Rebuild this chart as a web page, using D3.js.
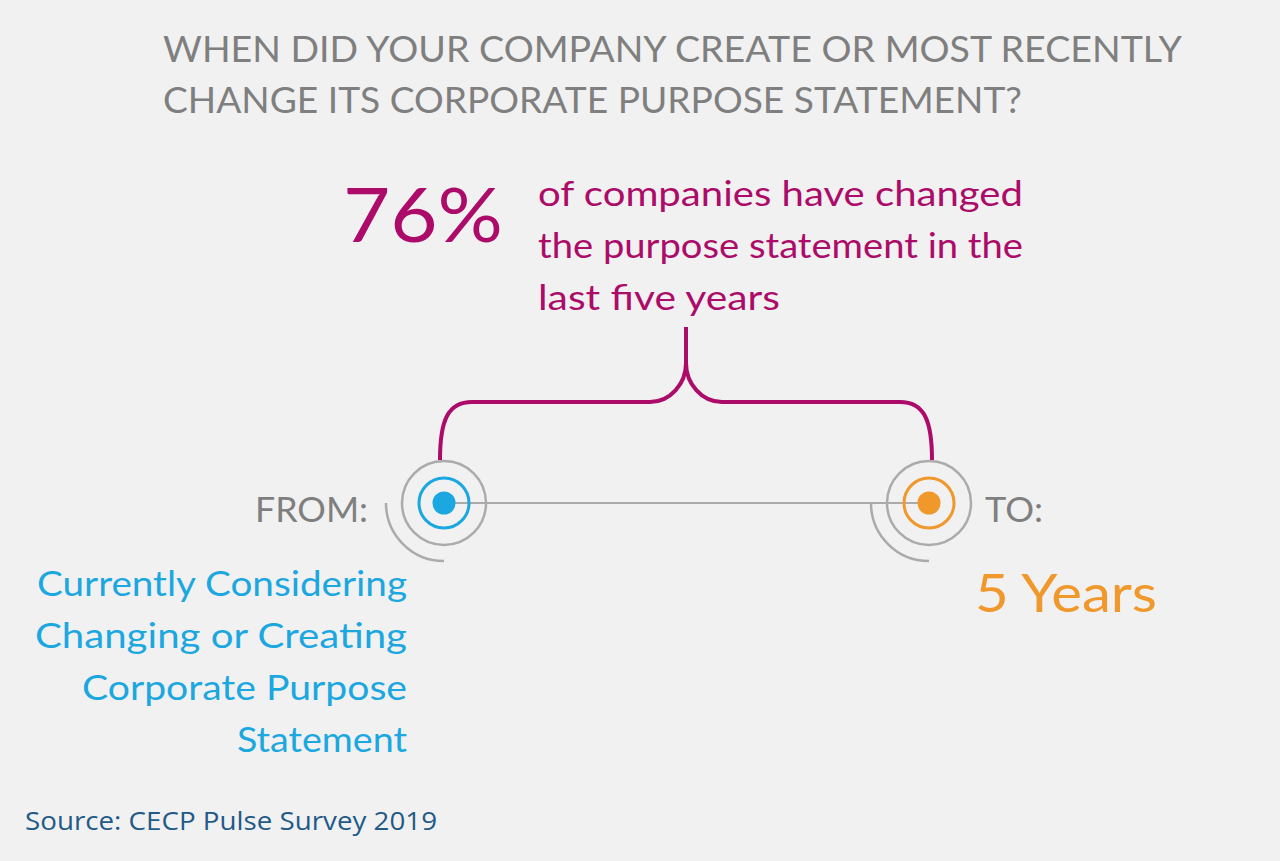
<!DOCTYPE html>
<html>
<head>
<meta charset="utf-8">
<script src="https://cdn.jsdelivr.net/npm/d3@7"></script>
<style>
html, body { margin: 0; padding: 0; background: #f1f1f1; }
svg { display: block; }
</style>
</head>
<body>
<div id="chart"></div>
<script>
// values
const titleLines = ['WHEN DID YOUR COMPANY CREATE OR MOST RECENTLY', 'CHANGE ITS CORPORATE PURPOSE STATEMENT?'];
const statValue = 76;
const statLines = ['of companies have changed', 'the purpose statement in the', 'last five years'];
const stages = ['FROM:', 'TO:'];
const fromLines = ['Currently Considering', 'Changing or Creating', 'Corporate Purpose', 'Statement'];
const toLines = ['5 Years'];
const sourceText = 'Source: CECP Pulse Survey 2019';

function renderVisual(container) {
    const W = 1280, H = 861;
    const FONT = 'Lato, "DejaVu Sans", sans-serif';
    const grey = '#7f7f7f', ringGrey = '#ababab', magenta = '#ac0b69';
    const svg = d3.select(container).append('svg').attr('width', W).attr('height', H);
    svg.append('rect').attr('width', W).attr('height', H).attr('fill', '#f1f1f1');

    // text helper, widths fitted to the reference
    function txt(str, x, y, size, color, anchor, width, family) {
        const t = svg.append('text').text(str).attr('x', x).attr('y', y)
            .attr('font-family', family || FONT).attr('font-size', size)
            .attr('fill', color).attr('text-anchor', anchor || 'start');
        if (width) t.attr('textLength', width).attr('lengthAdjust', 'spacingAndGlyphs');
        return t;
    }

    // title
    const titleW = [1019, 859];
    titleLines.forEach((s, i) => txt(s, 163, 62 + i * 51, 37, grey, 'start', titleW[i]));

    // big stat + description
    txt(statValue + '%', 343, 242, 76, magenta, 'start', 160);
    const statW = [485, 485, 242];
    statLines.forEach((s, i) => txt(s, 538, 206 + i * 52, 35, magenta, 'start', statW[i]));

    // timeline
    const x = d3.scalePoint().domain(stages).range([444, 929]);
    const color = d3.scaleOrdinal().domain(stages).range(['#1ba7df', '#f0982b']);
    const cy = 503;

    // brace
    const xL = x('FROM:') - 4, xR = x('TO:') + 3, xM = (xL + xR) / 2;
    const yBot = 460, yBar = 402, yCusp = 363, yTop = 327;
    const p = d3.path();
    p.moveTo(xL, yBot);
    p.bezierCurveTo(xL, 420, xL + 8, yBar, xL + 32, yBar);
    p.lineTo(xM - 36, yBar);
    p.bezierCurveTo(xM - 16, yBar, xM, 384, xM, yCusp);
    p.lineTo(xM, yTop);
    p.moveTo(xM, yCusp);
    p.bezierCurveTo(xM, 384, xM + 16, yBar, xM + 36, yBar);
    p.lineTo(xR - 32, yBar);
    p.bezierCurveTo(xR - 8, yBar, xR, 420, xR, yBot);
    svg.append('path').attr('d', p.toString()).attr('fill', 'none')
        .attr('stroke', magenta).attr('stroke-width', 4);

    svg.append('line').attr('x1', x('FROM:')).attr('x2', x('TO:')).attr('y1', cy).attr('y2', cy)
        .attr('stroke', ringGrey).attr('stroke-width', 2);

    const node = svg.selectAll('g.node').data(stages).join('g')
        .attr('class', 'node').attr('transform', d => `translate(${x(d)},${cy})`);
    node.append('path').attr('d', () => {
        const a = d3.path();
        a.arc(0, 0, 58, Math.PI / 2, Math.PI);
        return a.toString();
    }).attr('fill', 'none').attr('stroke', ringGrey).attr('stroke-width', 2.5);
    node.append('circle').attr('r', 42).attr('fill', 'none').attr('stroke', ringGrey).attr('stroke-width', 2.5);
    node.append('circle').attr('r', 25).attr('fill', 'none').attr('stroke', d => color(d)).attr('stroke-width', 3);
    node.append('circle').attr('r', 11.5).attr('fill', d => color(d));

    txt(stages[0], 368, 522, 35, grey, 'end', 113);
    txt(stages[1], 985, 522, 35, grey, 'start', 58);

    const fromW = [370, 372, 325, 170];
    fromLines.forEach((s, i) => txt(s, 407, 596 + i * 52, 35, color('FROM:'), 'end', fromW[i]));
    toLines.forEach((s, i) => txt(s, 975, 612 + i * 60, 52, color('TO:'), 'start', 182));

    txt(sourceText, 25, 830, 26, '#1f5a88', 'start', 412, '"Open Sans", sans-serif');
}

renderVisual(document.getElementById('chart'));
</script>
</body>
</html>
